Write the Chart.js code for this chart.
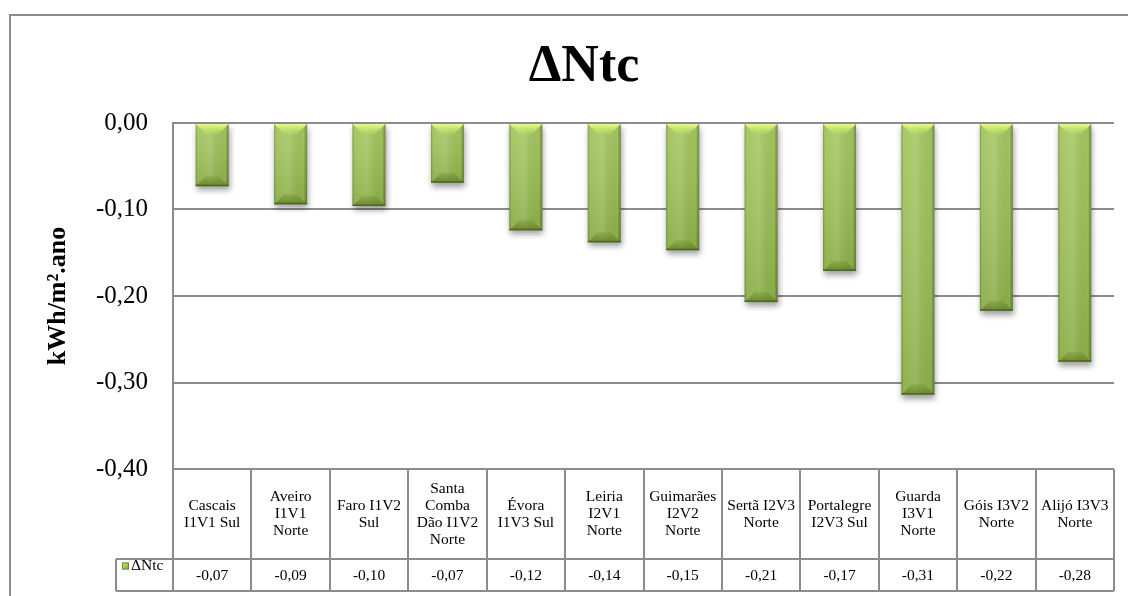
<!DOCTYPE html>
<html>
<head>
<meta charset="utf-8">
<script src="https://cdn.jsdelivr.net/npm/chart.js@4.4.0/dist/chart.umd.min.js"></script>
<style>
html, body { margin: 0; padding: 0; background: #fff; }
#wrap { width: 1128px; height: 596px; }
</style>
</head>
<body>
<div id="wrap"><canvas id="ntcChart" width="1128" height="596"></canvas></div>
<script>
// categories (multi-line, as shown in the table header row)
const categories = [
    ['Cascais', 'I1V1 Sul'],
    ['Aveiro', 'I1V1', 'Norte'],
    ['Faro I1V2', 'Sul'],
    ['Santa', 'Comba', 'Dão I1V2', 'Norte'],
    ['Évora', 'I1V3 Sul'],
    ['Leiria', 'I2V1', 'Norte'],
    ['Guimarães', 'I2V2', 'Norte'],
    ['Sertã I2V3', 'Norte'],
    ['Portalegre', 'I2V3 Sul'],
    ['Guarda', 'I3V1', 'Norte'],
    ['Góis I3V2', 'Norte'],
    ['Alijó I3V3', 'Norte'],
];
const seriesName = 'ΔNtc';
const deltaNtc = [-0.073, -0.094, -0.096, -0.069, -0.124, -0.138, -0.147, -0.207, -0.171, -0.314, -0.217, -0.276];
const yMin = -0.4;
const yMax = 0;
const yStep = 0.1;

const SERIF = '"Liberation Serif", "Times New Roman", serif';
const LINE = '#8c8c8c';

function fmt(v) {
    return v.toFixed(2).replace('.', ',');
}

// white background, outer frame and the big title
const framePlugin = {
    id: 'frame',
    beforeDraw(chart) {
        const ctx = chart.ctx;
        ctx.save();
        ctx.fillStyle = '#fff';
        ctx.fillRect(0, 0, chart.width, chart.height);
        ctx.strokeStyle = LINE;
        ctx.lineWidth = 2;
        ctx.beginPath();
        ctx.moveTo(10, chart.height + 2);
        ctx.lineTo(10, 15);
        ctx.lineTo(chart.width + 2, 15);
        ctx.stroke();
        ctx.fillStyle = '#000';
        ctx.font = 'bold 52px ' + SERIF;
        ctx.textAlign = 'center';
        ctx.textBaseline = 'middle';
        ctx.fillText(seriesName, 584, 68);
        ctx.restore();
    }
};

function drawBevel(ctx, left, top, w, h) {
    const right = left + w, bottom = top + h;
    const bev = Math.min(10, h / 3);
    let g = ctx.createLinearGradient(left, 0, right, 0);
    g.addColorStop(0, 'rgba(50,70,15,0.4)');
    g.addColorStop(0.1, 'rgba(255,255,255,0.05)');
    g.addColorStop(0.45, 'rgba(255,255,255,0.14)');
    g.addColorStop(0.9, 'rgba(0,0,0,0.02)');
    g.addColorStop(1, 'rgba(40,60,10,0.45)');
    ctx.fillStyle = g;
    ctx.fillRect(left, top, w, h);

    g = ctx.createLinearGradient(0, top, 0, bottom);
    g.addColorStop(0, 'rgba(255,255,255,0.08)');
    g.addColorStop(1, 'rgba(40,60,10,0.14)');
    ctx.fillStyle = g;
    ctx.fillRect(left, top, w, h);

    // top bevel
    ctx.beginPath();
    ctx.moveTo(left, top);
    ctx.lineTo(right, top);
    ctx.lineTo(right - bev, top + bev);
    ctx.lineTo(left + bev, top + bev);
    ctx.closePath();
    g = ctx.createLinearGradient(0, top, 0, top + bev);
    g.addColorStop(0, '#e8fb90');
    g.addColorStop(0.3, 'rgba(214,242,124,0.9)');
    g.addColorStop(1, 'rgba(184,218,98,0.35)');
    ctx.fillStyle = g;
    ctx.fill();

    // bottom bevel
    ctx.beginPath();
    ctx.moveTo(left, bottom);
    ctx.lineTo(right, bottom);
    ctx.lineTo(right - bev, bottom - bev);
    ctx.lineTo(left + bev, bottom - bev);
    ctx.closePath();
    g = ctx.createLinearGradient(0, bottom - bev, 0, bottom);
    g.addColorStop(0, 'rgba(105,135,40,0.25)');
    g.addColorStop(1, 'rgba(95,125,35,0.8)');
    ctx.fillStyle = g;
    ctx.fill();

    ctx.fillStyle = 'rgba(75,100,30,0.9)';
    ctx.fillRect(left, bottom - 1.5, w, 1.5);
}

// soft shadow under the bars plus the bevel shading on top of them
const bevelPlugin = {
    id: 'bevel',
    beforeDatasetsDraw(chart) {
        const ctx = chart.ctx;
        ctx.save();
        ctx.shadowColor = 'rgba(0,0,0,0.38)';
        ctx.shadowBlur = 6;
        ctx.shadowOffsetX = 1;
        ctx.shadowOffsetY = 4;
    },
    afterDatasetsDraw(chart) {
        const ctx = chart.ctx;
        ctx.restore();
        ctx.save();
        chart.getDatasetMeta(0).data.forEach(bar => {
            const p = bar.getProps(['x', 'y', 'base', 'width'], true);
            const top = Math.min(p.y, p.base);
            const h = Math.abs(p.y - p.base);
            drawBevel(ctx, p.x - p.width / 2, top, p.width, h);
        });
        ctx.restore();
    }
};

// data table below the plot: category row, value row and the legend key cell
const tablePlugin = {
    id: 'dataTable',
    afterDraw(chart) {
        const ctx = chart.ctx;
        const xs = chart.scales.x;
        const area = chart.chartArea;
        const n = categories.length;
        const colW = (area.right - area.left) / n;
        const headTop = area.bottom;
        const headBot = headTop + 90;
        const valBot = headBot + 32;
        const keyLeft = area.left - 57;

        ctx.save();
        ctx.strokeStyle = LINE;
        ctx.lineWidth = 2;
        ctx.beginPath();
        ctx.moveTo(area.left, headTop);
        ctx.lineTo(area.right, headTop);
        ctx.moveTo(keyLeft, headBot);
        ctx.lineTo(area.right, headBot);
        ctx.moveTo(keyLeft, valBot);
        ctx.lineTo(area.right, valBot);
        ctx.moveTo(keyLeft, headBot);
        ctx.lineTo(keyLeft, valBot);
        for (let i = 0; i <= n; i++) {
            const bx = Math.round(area.left + i * colW);
            ctx.moveTo(bx, headTop);
            ctx.lineTo(bx, valBot);
        }
        ctx.stroke();

        ctx.fillStyle = '#000';
        ctx.font = '15.5px ' + SERIF;
        ctx.textAlign = 'center';
        ctx.textBaseline = 'middle';
        const lh = 17;
        categories.forEach((lines, i) => {
            const cx = xs.getPixelForValue(i);
            const cy = (headTop + headBot) / 2 - (lines.length - 1) * lh / 2;
            lines.forEach((t, k) => ctx.fillText(t, cx, cy + k * lh));
            ctx.fillText(fmt(deltaNtc[i]), cx, (headBot + valBot) / 2 + 1);
        });

        // legend key
        const kx = keyLeft + 6, ky = headBot + 3.5;
        const g = ctx.createLinearGradient(kx, ky, kx + 7, ky + 7);
        g.addColorStop(0, '#d4ef7c');
        g.addColorStop(1, '#7f9e38');
        ctx.fillStyle = g;
        ctx.fillRect(kx, ky, 7, 7);
        ctx.strokeStyle = '#6e8c30';
        ctx.lineWidth = 1;
        ctx.strokeRect(kx + 0.5, ky + 0.5, 6, 6);
        ctx.fillStyle = '#000';
        ctx.textAlign = 'left';
        ctx.fillText(seriesName, kx + 9, headBot + 7);
        ctx.restore();
    }
};

const ctx = document.getElementById('ntcChart').getContext('2d');
const ntcChart = new Chart(ctx, {
    type: 'bar',
    data: {
        labels: categories,
        datasets: [{
            label: seriesName,
            data: deltaNtc,
            backgroundColor: '#9cc152',
            borderWidth: 0,
            barPercentage: 0.42,
            categoryPercentage: 1,
        }],
    },
    options: {
        responsive: false,
        animation: false,
        layout: { padding: { left: 9, right: 14, top: 123, bottom: 127 } },
        plugins: {
            legend: { display: false },
            tooltip: { enabled: false },
            title: { display: false },
        },
        scales: {
            x: { display: false },
            y: {
                min: yMin,
                max: yMax,
                afterFit(scale) { scale.width = 164; },
                ticks: {
                    stepSize: yStep,
                    padding: 25,
                    color: '#000',
                    font: { family: SERIF, size: 25 },
                    callback: value => fmt(value),
                },
                grid: { color: LINE, lineWidth: 2, drawTicks: false },
                border: { color: LINE, width: 2 },
                title: {
                    display: true,
                    text: 'kWh/m².ano',
                    color: '#000',
                    font: { family: SERIF, size: 26, weight: 'bold' },
                    padding: { top: 34, bottom: 0 },
                },
            },
        },
    },
    plugins: [framePlugin, bevelPlugin, tablePlugin],
});
</script>
</body>
</html>
